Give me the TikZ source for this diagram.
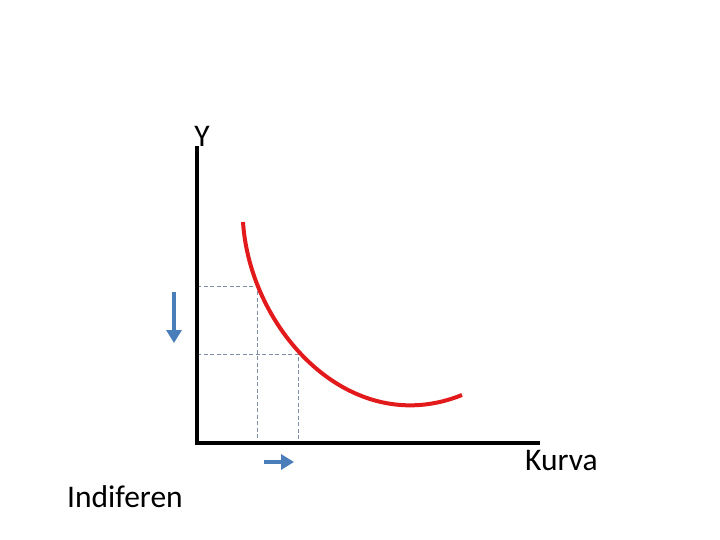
\documentclass[tikz,border=0pt]{standalone}
\usepackage{fontspec}
\setmainfont{Carlito}
\usetikzlibrary{arrows.meta}
\definecolor{offblue}{HTML}{4A7EBB}
\definecolor{dashgray}{HTML}{7F8FA6}
\definecolor{curvered}{HTML}{E31A1C}
\begin{document}
\begin{tikzpicture}[x=1pt,y=-1pt,
  axisline/.style={line width=3.5pt},
  guide/.style={dashgray,line width=0.9pt,dash pattern=on 4pt off 2.5pt},
  bluearrow/.style={offblue,line width=3.8pt,-{Triangle[length=13pt,width=15pt]}},
  lbl/.style={font=\fontsize{31.5}{33}\selectfont,inner sep=0pt}]
\useasboundingbox (0,0) rectangle (720,540);
\coordinate (top) at (197,146);
\coordinate (O) at (197,443);
\coordinate (right) at (540,443);
\coordinate (p1) at (257,286);
\coordinate (p2) at (298,354);
\coordinate (p1y) at (197,286);
\coordinate (p2y) at (197,354);
\coordinate (p1x) at (257,443);
\coordinate (p2x) at (298,443);
\draw[guide] (p1y) -- (p1) -- (p1x);
\draw[guide] (p2y) -- (p2) -- (p2x);
\draw[axisline] (top) -- (O) -- (right);
\draw[curvered,line width=4pt] (243,222) .. controls (250,330) and (350,440) .. (462,395);
\coordinate (a1s) at (174,292);
\coordinate (a1e) at (174,343);
\coordinate (a2s) at (264,462);
\coordinate (a2e) at (294,462);
\draw[bluearrow] (a1s) -- (a1e);
\draw[bluearrow] (a2s) -- (a2e);
\node[lbl,anchor=base] (ylab) at (202,147) {Y};
\node[lbl,anchor=base west] (kurva) at (525,470) {Kurva};
\node[lbl,anchor=base west] (indif) at (67,507) {Indiferen};
\end{tikzpicture}
\end{document}
